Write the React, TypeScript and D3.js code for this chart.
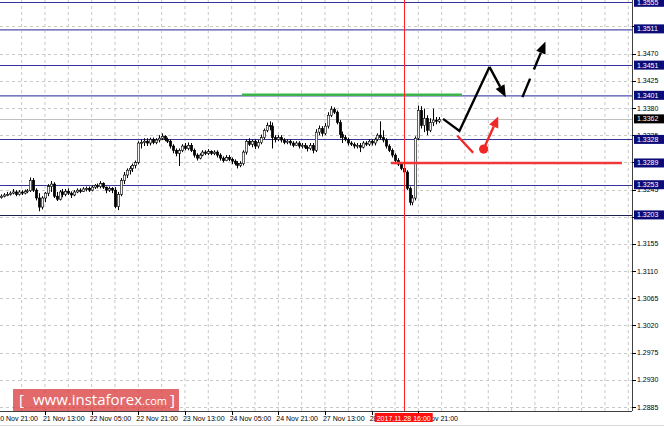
import React from 'react';
import * as d3 from 'd3';

const W = 664;
const H = 427;
const PLOT_R = 632;
const PLOT_B = 411;

const opens = [1.3229,1.3232,1.3234,1.3236,1.3237,1.3239,1.3241,1.3237,1.3241,1.3239,1.3242,1.3243,1.3260,1.3244,1.3231,1.3216,1.3231,1.3239,1.3250,1.3254,1.3234,1.3229,1.3241,1.3237,1.3242,1.3239,1.3236,1.3241,1.3244,1.3242,1.3246,1.3247,1.3244,1.3249,1.3252,1.3250,1.3255,1.3249,1.3244,1.3247,1.3244,1.3217,1.3237,1.3260,1.3269,1.3277,1.3280,1.3285,1.3290,1.3322,1.3323,1.3325,1.3322,1.3328,1.3323,1.3327,1.3330,1.3333,1.3328,1.3325,1.3317,1.3310,1.3305,1.3310,1.3317,1.3313,1.3318,1.3310,1.3302,1.3297,1.3302,1.3307,1.3305,1.3308,1.3305,1.3307,1.3302,1.3297,1.3293,1.3298,1.3295,1.3292,1.3288,1.3285,1.3288,1.3307,1.3325,1.3320,1.3325,1.3317,1.3323,1.3331,1.3343,1.3351,1.3350,1.3331,1.3328,1.3331,1.3327,1.3323,1.3325,1.3322,1.3318,1.3322,1.3317,1.3318,1.3315,1.3313,1.3318,1.3310,1.3340,1.3346,1.3338,1.3350,1.3368,1.3378,1.3373,1.3356,1.3336,1.3331,1.3328,1.3322,1.3320,1.3317,1.3318,1.3315,1.3322,1.3320,1.3325,1.3322,1.3328,1.3335,1.3331,1.3327,1.3317,1.3310,1.3302,1.3293,1.3287,1.3280,1.3274,1.3247,1.3224,1.3231,1.3330,1.3376,1.3351,1.3363,1.3343,1.3356,1.3360,1.3358];
const highs = [1.3236,1.3237,1.3239,1.3241,1.3242,1.3246,1.3244,1.3244,1.3244,1.3245,1.3246,1.3265,1.3264,1.3247,1.3239,1.3234,1.3241,1.3254,1.3259,1.3257,1.3241,1.3244,1.3246,1.3246,1.3247,1.3242,1.3244,1.3247,1.3247,1.3249,1.3250,1.3250,1.3252,1.3254,1.3255,1.3259,1.3257,1.3250,1.3250,1.3249,1.3249,1.3241,1.3264,1.3274,1.3280,1.3284,1.3288,1.3293,1.3325,1.3328,1.3330,1.3330,1.3331,1.3331,1.3330,1.3335,1.3338,1.3335,1.3331,1.3328,1.3320,1.3313,1.3313,1.3320,1.3322,1.3323,1.3322,1.3313,1.3305,1.3305,1.3310,1.3310,1.3312,1.3310,1.3310,1.3310,1.3305,1.3300,1.3302,1.3302,1.3298,1.3295,1.3292,1.3292,1.3310,1.3328,1.3330,1.3328,1.3328,1.3327,1.3336,1.3346,1.3356,1.3358,1.3356,1.3335,1.3335,1.3335,1.3330,1.3328,1.3328,1.3325,1.3325,1.3325,1.3322,1.3322,1.3318,1.3322,1.3322,1.3345,1.3351,1.3350,1.3355,1.3373,1.3383,1.3381,1.3376,1.3360,1.3341,1.3335,1.3331,1.3325,1.3323,1.3322,1.3322,1.3325,1.3325,1.3328,1.3328,1.3331,1.3338,1.3358,1.3343,1.3330,1.3320,1.3313,1.3305,1.3297,1.3290,1.3285,1.3277,1.3250,1.3236,1.3333,1.3384,1.3383,1.3379,1.3368,1.3363,1.3379,1.3365,1.3365];
const lows = [1.3227,1.3230,1.3232,1.3234,1.3235,1.3237,1.3234,1.3235,1.3236,1.3237,1.3239,1.3241,1.3241,1.3227,1.3209,1.3212,1.3224,1.3234,1.3241,1.3231,1.3226,1.3227,1.3232,1.3234,1.3236,1.3231,1.3234,1.3239,1.3239,1.3241,1.3242,1.3241,1.3242,1.3246,1.3247,1.3247,1.3246,1.3239,1.3241,1.3239,1.3214,1.3211,1.3234,1.3254,1.3264,1.3270,1.3274,1.3280,1.3287,1.3313,1.3317,1.3317,1.3318,1.3320,1.3320,1.3323,1.3327,1.3325,1.3322,1.3313,1.3305,1.3300,1.3284,1.3307,1.3310,1.3310,1.3307,1.3298,1.3293,1.3295,1.3300,1.3302,1.3302,1.3302,1.3302,1.3298,1.3293,1.3290,1.3292,1.3292,1.3287,1.3285,1.3280,1.3282,1.3285,1.3303,1.3317,1.3315,1.3312,1.3313,1.3320,1.3328,1.3340,1.3343,1.3313,1.3323,1.3325,1.3323,1.3320,1.3320,1.3318,1.3315,1.3317,1.3313,1.3313,1.3312,1.3308,1.3310,1.3305,1.3307,1.3335,1.3333,1.3335,1.3346,1.3365,1.3370,1.3353,1.3330,1.3322,1.3325,1.3318,1.3317,1.3313,1.3313,1.3307,1.3313,1.3317,1.3317,1.3318,1.3318,1.3325,1.3328,1.3323,1.3313,1.3307,1.3298,1.3290,1.3284,1.3277,1.3270,1.3244,1.3219,1.3219,1.3227,1.3327,1.3346,1.3340,1.3335,1.3340,1.3350,1.3353,1.3355];
const closes = [1.3232,1.3234,1.3236,1.3237,1.3239,1.3241,1.3237,1.3241,1.3239,1.3242,1.3243,1.3260,1.3244,1.3231,1.3216,1.3231,1.3239,1.3250,1.3254,1.3234,1.3229,1.3241,1.3237,1.3242,1.3239,1.3236,1.3241,1.3244,1.3242,1.3246,1.3247,1.3244,1.3249,1.3252,1.3250,1.3255,1.3249,1.3244,1.3247,1.3244,1.3217,1.3237,1.3260,1.3269,1.3277,1.3280,1.3285,1.3290,1.3322,1.3323,1.3325,1.3322,1.3328,1.3323,1.3327,1.3330,1.3333,1.3328,1.3325,1.3317,1.3310,1.3305,1.3310,1.3317,1.3313,1.3318,1.3310,1.3302,1.3297,1.3302,1.3307,1.3305,1.3308,1.3305,1.3307,1.3302,1.3297,1.3293,1.3298,1.3295,1.3292,1.3288,1.3285,1.3288,1.3307,1.3325,1.3320,1.3325,1.3317,1.3323,1.3331,1.3343,1.3351,1.3350,1.3331,1.3328,1.3331,1.3327,1.3323,1.3325,1.3322,1.3318,1.3322,1.3317,1.3318,1.3315,1.3313,1.3318,1.3310,1.3340,1.3346,1.3338,1.3350,1.3368,1.3378,1.3373,1.3356,1.3336,1.3331,1.3328,1.3322,1.3320,1.3317,1.3318,1.3315,1.3322,1.3320,1.3325,1.3322,1.3328,1.3335,1.3331,1.3327,1.3317,1.3310,1.3302,1.3293,1.3287,1.3280,1.3274,1.3247,1.3224,1.3231,1.3330,1.3376,1.3351,1.3363,1.3343,1.3356,1.3360,1.3358,1.3361];

const timeLabels = ['20 Nov 21:00','21 Nov 13:00','22 Nov 05:00','22 Nov 21:00','23 Nov 13:00','24 Nov 05:00','24 Nov 21:00','27 Nov 13:00','28 Nov 05:00','28 Nov 21:00'];
const timeLabelBars = [0,16,32,48,64,80,96,112,128,144];
const gridTicks = ['1.2885','1.2930','1.2975','1.3020','1.3065','1.3110','1.3155','1.3200','1.3245','1.3290','1.3335','1.3380','1.3425','1.3470','1.3515'];
const priceTickLabels = ['1.2885','1.2930','1.2975','1.3020','1.3065','1.3110','1.3155','1.3245','1.3335','1.3380','1.3425','1.3470'];
const levelPrices = ['1.3555','1.3511','1.3451','1.3401','1.3328','1.3289','1.3253','1.3203'];
const levelLines = [1.3555,1.3511,1.3451,1.3401,1.3328,1.3253,1.3203];
const currentPrice = '1.3362';
const markerBar = 139;
const markerLabel = '2017.11.28 16:00';

// analyst annotations (bar index, price)
const greenLevel = { from: 83.5, to: 159, price: 1.3402 };
const redLevel = { from: 134.6, to: 213.8, price: 1.3289 };
const blackPath: [number, number][] = [[152.5,1.3362],[158.1,1.3342],[168.4,1.3448]];
const blackArrow: [number, number][] = [[168.4,1.3448],[174.0,1.3398]];
const dashedArrow: [number, number][] = [[179.7,1.3398],[187.6,1.3490]];
const redSegment: [number, number][] = [[157.4,1.3334],[162.8,1.3306]];
const redArrow: [number, number][] = [[166.4,1.3312],[171.4,1.3366]];

const x = d3.scaleLinear().domain([0, 144]).range([-1.7, 418.3]);
const y = d3.scaleLinear().domain([1.2885, 1.3555]).range([407, 2.3]);

function arrowHead(p0: [number, number], p1: [number, number], len = 11, half = 4.5) {
  const x0 = x(p0[0]), y0 = y(p0[1]), x1 = x(p1[0]), y1 = y(p1[1]);
  const dx = x1 - x0, dy = y1 - y0;
  const L = Math.hypot(dx, dy);
  const ux = dx / L, uy = dy / L;
  const bx = x1 - ux * len, by = y1 - uy * len;
  const pts = [[x1, y1], [bx - uy * half, by + ux * half], [bx + uy * half, by - ux * half]];
  return { pts: pts.map(p => p.join(',')).join(' '), bx, by, x0, y0 };
}

export default function App() {
  const font = '"Liberation Sans", Arial, sans-serif';
  const gridX = d3.range(0, 220, 8);
  const line = d3.line<[number, number]>().x(d => x(d[0])).y(d => y(d[1]));
  const ba = arrowHead(blackArrow[0], blackArrow[1], 12, 5);
  const da = arrowHead(dashedArrow[0], dashedArrow[1], 12, 5);
  const ra = arrowHead(redArrow[0], redArrow[1], 11, 5);
  return (
    <svg width={W} height={H} style={{ position: 'absolute', left: 0, top: 0, background: '#fff' }} fontFamily={font}>
      <defs>
        <clipPath id="plot"><rect x={0} y={0} width={PLOT_R} height={PLOT_B} /></clipPath>
      </defs>
      <g clipPath="url(#plot)">
        {gridX.map(i => (
          <line key={'gx' + i} x1={x(i)} x2={x(i)} y1={0} y2={PLOT_B} stroke="#c8c8c8" strokeDasharray="3,3" strokeWidth={1} />
        ))}
        {gridTicks.map(t => (
          <line key={'gy' + t} x1={0} x2={PLOT_R} y1={Math.round(y(+t)) + 0.5} y2={Math.round(y(+t)) + 0.5} stroke="#c8c8c8" strokeDasharray="3,3" strokeWidth={1} />
        ))}
        {levelLines.map(p => {
          const light = p === 1.3511 || p === 1.3401;
          const yy = Math.round(y(p)) + 0.5;
          return (
            <g key={'lv' + p}>
              {light && <line x1={0} x2={PLOT_R} y1={yy + 1} y2={yy + 1} stroke="#a8a8d8" strokeWidth={1} />}
              <line x1={0} x2={PLOT_R} y1={yy} y2={yy} stroke={p === 1.3203 ? '#202050' : (light ? '#7a7ac0' : '#34349a')} strokeWidth={1} />
            </g>
          );
        })}
        <line x1={0} x2={PLOT_R} y1={Math.round(y(+currentPrice)) + 0.5} y2={Math.round(y(+currentPrice)) + 0.5} stroke="#c0c0c0" strokeWidth={1} />
        <line x1={x(greenLevel.from)} x2={x(greenLevel.to)} y1={y(greenLevel.price)} y2={y(greenLevel.price)} stroke="#3cb44a" strokeWidth={2.5} />
        {closes.map((c, i) => {
          const o = opens[i];
          const cx = Math.round(x(i)) + 0.5;
          const top = y(Math.max(o, c));
          const bot = y(Math.min(o, c));
          const bull = c >= o;
          return (
            <g key={'c' + i}>
              <line x1={cx} x2={cx} y1={y(highs[i])} y2={y(lows[i])} stroke="#000" strokeWidth={1} />
              <rect x={cx - 1.2} y={top} width={2.4} height={Math.max(1, bot - top)} fill={bull ? '#f4f4f4' : '#000'} stroke="#000" strokeWidth={0.6} />
            </g>
          );
        })}
        <line x1={x(redLevel.from)} x2={x(redLevel.to)} y1={y(redLevel.price)} y2={y(redLevel.price)} stroke="#f03838" strokeWidth={2.6} />
        <line x1={Math.round(x(markerBar)) + 0.5} x2={Math.round(x(markerBar)) + 0.5} y1={0} y2={PLOT_B} stroke="#ff2020" strokeWidth={1} />
        <path d={line(blackPath) || ''} fill="none" stroke="#000" strokeWidth={2.4} strokeLinejoin="miter" />
        <line x1={ba.x0} y1={ba.y0} x2={ba.bx} y2={ba.by} stroke="#000" strokeWidth={2.4} />
        <polygon points={ba.pts} fill="#000" />
        <line x1={da.x0} y1={da.y0} x2={da.bx} y2={da.by} stroke="#000" strokeWidth={2.4} strokeDasharray="20,10" />
        <polygon points={da.pts} fill="#000" />
        <path d={line(redSegment) || ''} fill="none" stroke="#f02828" strokeWidth={2.4} />
        <circle cx={x(redArrow[0][0])} cy={y(redArrow[0][1])} r={4.6} fill="#f02828" />
        <line x1={ra.x0} y1={ra.y0} x2={ra.bx} y2={ra.by} stroke="#f02828" strokeWidth={2.4} />
        <polygon points={ra.pts} fill="#f02828" />
      </g>
      {/* watermark */}
      <rect x={13} y={389} width={166} height={22} fill="#d83030" opacity={0.72} />
      <text x={19} y={405} fill="#fff" fontSize={15} fontFamily='"Open Sans", sans-serif'>
        <tspan>[</tspan>
        <tspan dx={9}>www.instaforex</tspan>
        <tspan fontSize={11}>.com</tspan>
        <tspan dx={3}>]</tspan>
      </text>
      {/* borders */}
      <line x1={PLOT_R + 0.5} x2={PLOT_R + 0.5} y1={0} y2={PLOT_B} stroke="#404040" strokeWidth={1} />
      <line x1={0} x2={PLOT_R} y1={PLOT_B + 0.5} y2={PLOT_B + 0.5} stroke="#404040" strokeWidth={1} />
      <line x1={0} x2={W} y1={425.5} y2={425.5} stroke="#d8d8d8" strokeWidth={1} />
      {/* right axis */}
      {gridTicks.map(t => (
        <line key={'pm' + t} x1={PLOT_R} x2={PLOT_R + 4} y1={Math.round(y(+t)) + 0.5} y2={Math.round(y(+t)) + 0.5} stroke="#000" />
      ))}
      {priceTickLabels.map(t => (
        <text key={'pt' + t} x={637} y={y(+t) + 2.5} fontSize={7} fill="#000">{t}</text>
      ))}
      {levelPrices.map(t => (
        <g key={'lb' + t}>
          <rect x={634} y={y(+t) - 4.5} width={30} height={9} fill="#0c0c78" />
          <text x={637} y={y(+t) + 2.5} fontSize={7} fill="#fff">{t}</text>
        </g>
      ))}
      <rect x={634} y={y(+currentPrice) - 4.5} width={30} height={9} fill="#000" />
      <text x={637} y={y(+currentPrice) + 2.5} fontSize={7} fill="#fff">{currentPrice}</text>
      {/* bottom axis */}
      {timeLabels.map((t, k) => (
        <g key={'tl' + t}>
          <line x1={Math.round(x(timeLabelBars[k])) + 0.5} x2={Math.round(x(timeLabelBars[k])) + 0.5} y1={PLOT_B} y2={PLOT_B + 4} stroke="#000" />
          <text x={x(timeLabelBars[k]) - 2} y={420.5} fontSize={7} fill="#000">{t}</text>
        </g>
      ))}
      <rect x={x(markerBar) - 29} y={413} width={58} height={9} fill="#ff1010" />
      <text x={x(markerBar)} y={420.5} fontSize={7} fill="#fff" textAnchor="middle">{markerLabel}</text>
    </svg>
  );
}
